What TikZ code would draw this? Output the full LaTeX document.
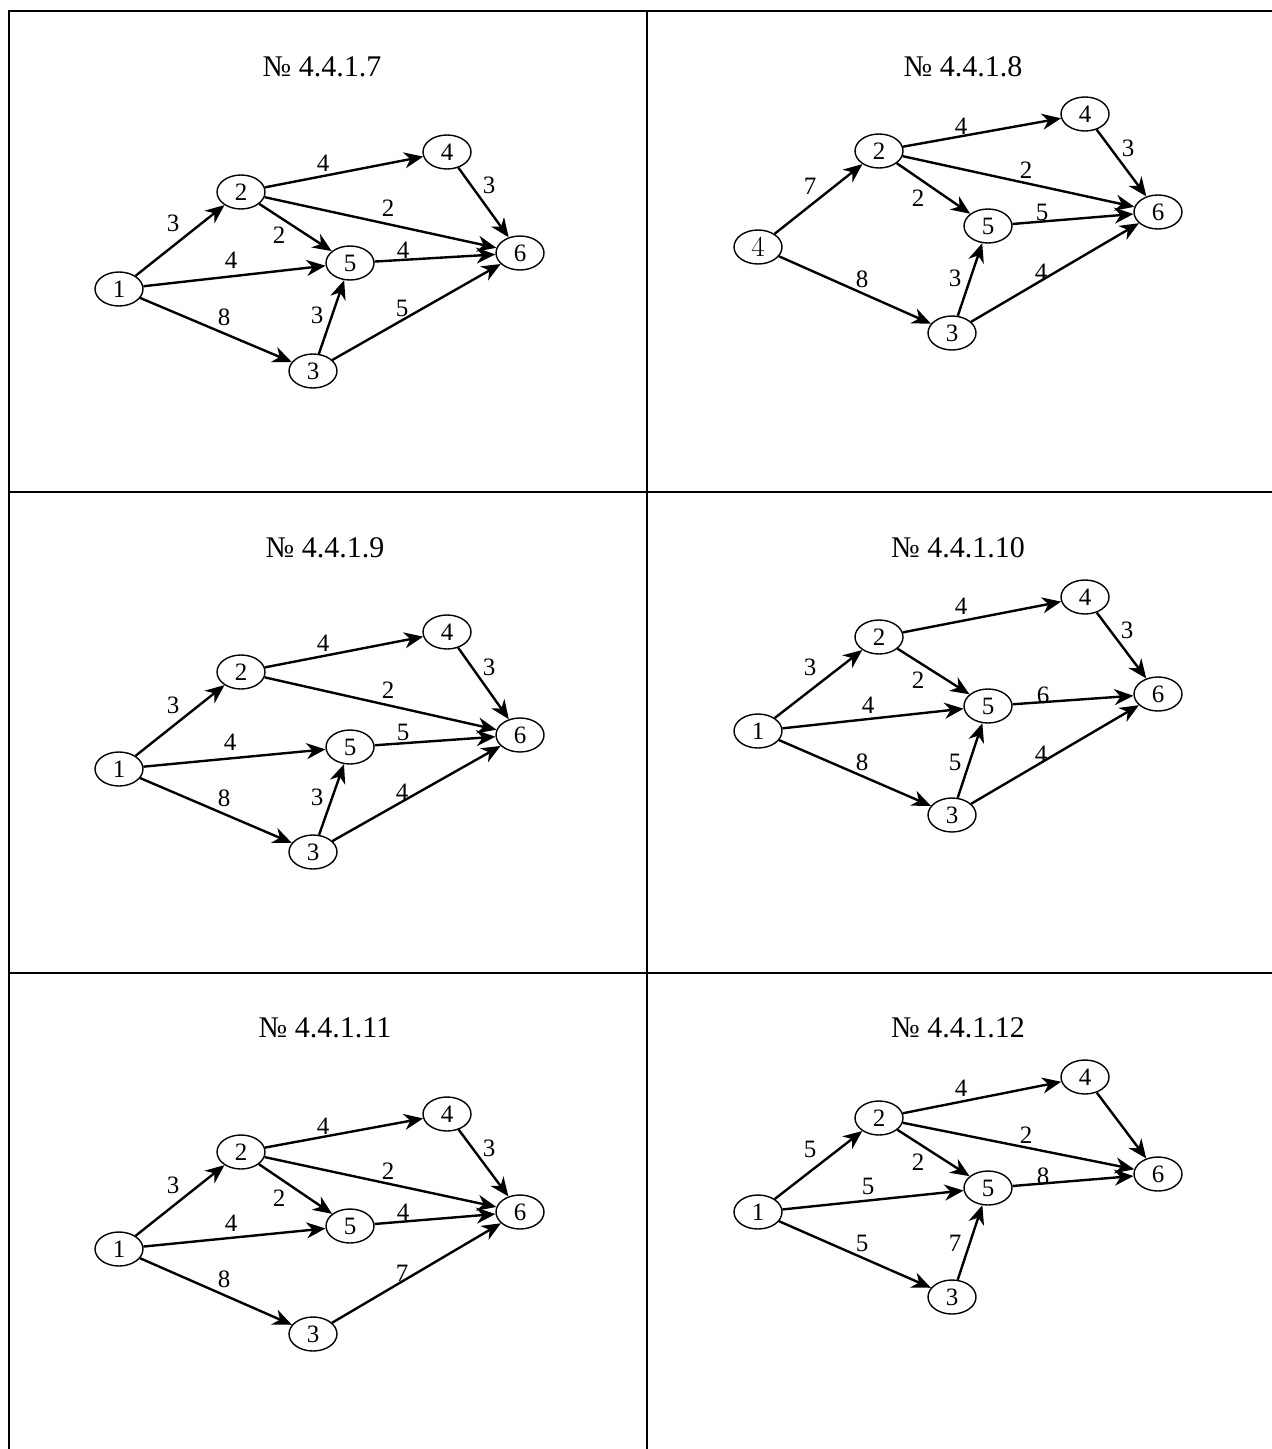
\documentclass[tikz,border=0pt]{standalone}
\usepackage{fontspec}
\setmainfont{Liberation Serif}
\newfontfamily\oddfour{Latin Modern Roman}
\usetikzlibrary{shapes.geometric,arrows.meta}
\begin{document}
\begin{tikzpicture}[x=0.5pt,y=-0.5pt,
  vtx/.style={ellipse, draw, line width=0.7pt, minimum width=24pt, minimum height=17pt, inner sep=0pt, font=\fontsize{12.5}{12.5}\selectfont},
  edge/.style={line width=1.2pt, -{Stealth[length=9.5pt,width=8pt,inset=3pt]}},
  lbl/.style={inner sep=0pt, font=\fontsize{12.5}{12.5}\selectfont},
  ttl/.style={inner sep=0pt, anchor=base, font=\fontsize{15}{16}\selectfont},
  gridline/.style={line width=1.1pt}]
\fill[white] (0,0) rectangle (1272,1449);
\useasboundingbox (0,0) rectangle (1272,1449);
% table
\coordinate (tl) at (9,11); \coordinate (tr) at (1272,11);
\coordinate (bl) at (9,1449); \coordinate (mt) at (647,11); \coordinate (mb) at (647,1449);
\coordinate (r1l) at (9,492); \coordinate (r1r) at (1272,492);
\coordinate (r2l) at (9,973); \coordinate (r2r) at (1272,973);
\draw[gridline] (bl) -- (tl) -- (tr);
\draw[gridline] (mt) -- (mb);
\draw[gridline] (r1l) -- (r1r);
\draw[gridline] (r2l) -- (r2r);
% titles
\node[ttl] (t7) at (322,77) {№ 4.4.1.7};
\node[ttl] (t8) at (963,77) {№ 4.4.1.8};
\node[ttl] (t9) at (325,557) {№ 4.4.1.9};
\node[ttl] (t10) at (958,557) {№ 4.4.1.10};
\node[ttl] (t11) at (325,1037) {№ 4.4.1.11};
\node[ttl] (t12) at (958,1037) {№ 4.4.1.12};

% ---- Panel A: 4.4.1.7
\node[vtx] (a1) at (119,289) {1};
\node[vtx] (a2) at (241,192) {2};
\node[vtx] (a4) at (447,152) {4};
\node[vtx] (a5) at (350,263) {5};
\node[vtx] (a6) at (520,253) {6};
\node[vtx] (a3) at (313,371) {3};
\draw[edge] (a1) -- (a2); \node[lbl] (la12) at (173,223) {3};
\draw[edge] (a1) -- (a5); \node[lbl] (la15) at (231,260) {4};
\draw[edge] (a1) -- (a3); \node[lbl] (la13) at (224,317) {8};
\draw[edge] (a2) -- (a4); \node[lbl] (la24) at (323,163) {4};
\draw[edge] (a2) -- (a6); \node[lbl] (la26) at (388,208) {2};
\draw[edge] (a2) -- (a5); \node[lbl] (la25) at (279,235) {2};
\draw[edge] (a4) -- (a6); \node[lbl] (la46) at (489,185) {3};
\draw[edge] (a5) -- (a6); \node[lbl] (la56) at (403,250) {4};
\draw[edge] (a3) -- (a5); \node[lbl] (la35) at (317,315) {3};
\draw[edge] (a3) -- (a6); \node[lbl] (la36) at (402,308) {5};

% ---- Panel B: 4.4.1.8
\node[vtx, font=\oddfour\fontsize{14.5}{14.5}\selectfont] (b1) at (758,247) {4};
\node[vtx] (b2) at (879,151) {2};
\node[vtx] (b4) at (1085,114) {4};
\node[vtx] (b5) at (988,226) {5};
\node[vtx] (b6) at (1158,212) {6};
\node[vtx] (b3) at (952,333) {3};
\draw[edge] (b1) -- (b2); \node[lbl] (lb12) at (810,186) {7};
\draw[edge] (b1) -- (b3); \node[lbl] (lb13) at (862,279) {8};
\draw[edge] (b2) -- (b4); \node[lbl] (lb24) at (961,126) {4};
\draw[edge] (b2) -- (b6); \node[lbl] (lb26) at (1026,170) {2};
\draw[edge] (b2) -- (b5); \node[lbl] (lb25) at (918,198) {2};
\draw[edge] (b4) -- (b6); \node[lbl] (lb46) at (1128,148) {3};
\draw[edge] (b5) -- (b6); \node[lbl] (lb56) at (1042,212) {5};
\draw[edge] (b3) -- (b5); \node[lbl] (lb35) at (955,278) {3};
\draw[edge] (b3) -- (b6); \node[lbl] (lb36) at (1041,272) {4};

% ---- Panel C: 4.4.1.9
\node[vtx] (c1) at (119,769) {1};
\node[vtx] (c2) at (241,672) {2};
\node[vtx] (c4) at (447,632) {4};
\node[vtx] (c5) at (350,747) {5};
\node[vtx] (c6) at (520,735) {6};
\node[vtx] (c3) at (313,852) {3};
\draw[edge] (c1) -- (c2); \node[lbl] (lc12) at (173,705) {3};
\draw[edge] (c1) -- (c5); \node[lbl] (lc15) at (230,742) {4};
\draw[edge] (c1) -- (c3); \node[lbl] (lc13) at (224,798) {8};
\draw[edge] (c2) -- (c4); \node[lbl] (lc24) at (323,643) {4};
\draw[edge] (c2) -- (c6); \node[lbl] (lc26) at (388,690) {2};
\draw[edge] (c4) -- (c6); \node[lbl] (lc46) at (489,667) {3};
\draw[edge] (c5) -- (c6); \node[lbl] (lc56) at (403,732) {5};
\draw[edge] (c3) -- (c5); \node[lbl] (lc35) at (317,797) {3};
\draw[edge] (c3) -- (c6); \node[lbl] (lc36) at (402,792) {4};

% ---- Panel D: 4.4.1.10
\node[vtx] (d1) at (758,731) {1};
\node[vtx] (d2) at (879,637) {2};
\node[vtx] (d4) at (1085,597) {4};
\node[vtx] (d5) at (988,706) {5};
\node[vtx] (d6) at (1158,694) {6};
\node[vtx] (d3) at (952,815) {3};
\draw[edge] (d1) -- (d2); \node[lbl] (ld12) at (810,667) {3};
\draw[edge] (d1) -- (d5); \node[lbl] (ld15) at (868,705) {4};
\draw[edge] (d1) -- (d3); \node[lbl] (ld13) at (862,762) {8};
\draw[edge] (d2) -- (d4); \node[lbl] (ld24) at (961,606) {4};
\draw[edge] (d2) -- (d5); \node[lbl] (ld25) at (918,680) {2};
\draw[edge] (d4) -- (d6); \node[lbl] (ld46) at (1127,630) {3};
\draw[edge] (d5) -- (d6); \node[lbl] (ld56) at (1043,695) {6};
\draw[edge] (d3) -- (d5); \node[lbl] (ld35) at (955,762) {5};
\draw[edge] (d3) -- (d6); \node[lbl] (ld36) at (1041,754) {4};

% ---- Panel E: 4.4.1.11
\node[vtx] (e1) at (119,1249) {1};
\node[vtx] (e2) at (241,1152) {2};
\node[vtx] (e4) at (447,1114) {4};
\node[vtx] (e5) at (350,1226) {5};
\node[vtx] (e6) at (520,1212) {6};
\node[vtx] (e3) at (313,1334) {3};
\draw[edge] (e1) -- (e2); \node[lbl] (le12) at (173,1185) {3};
\draw[edge] (e1) -- (e5); \node[lbl] (le15) at (231,1223) {4};
\draw[edge] (e1) -- (e3); \node[lbl] (le13) at (224,1279) {8};
\draw[edge] (e2) -- (e4); \node[lbl] (le24) at (323,1126) {4};
\draw[edge] (e2) -- (e6); \node[lbl] (le26) at (388,1171) {2};
\draw[edge] (e2) -- (e5); \node[lbl] (le25) at (279,1198) {2};
\draw[edge] (e4) -- (e6); \node[lbl] (le46) at (489,1148) {3};
\draw[edge] (e5) -- (e6); \node[lbl] (le56) at (403,1212) {4};
\draw[edge] (e3) -- (e6); \node[lbl] (le36) at (402,1273) {7};

% ---- Panel F: 4.4.1.12
\node[vtx] (f1) at (758,1212) {1};
\node[vtx] (f2) at (879,1118) {2};
\node[vtx] (f4) at (1085,1077) {4};
\node[vtx] (f5) at (988,1188) {5};
\node[vtx] (f6) at (1158,1174) {6};
\node[vtx] (f3) at (952,1297) {3};
\draw[edge] (f1) -- (f2); \node[lbl] (lf12) at (810,1149) {5};
\draw[edge] (f1) -- (f5); \node[lbl] (lf15) at (868,1186) {5};
\draw[edge] (f1) -- (f3); \node[lbl] (lf13) at (862,1243) {5};
\draw[edge] (f2) -- (f4); \node[lbl] (lf24) at (961,1088) {4};
\draw[edge] (f2) -- (f6); \node[lbl] (lf26) at (1026,1135) {2};
\draw[edge] (f2) -- (f5); \node[lbl] (lf25) at (918,1162) {2};
\draw[edge] (f4) -- (f6);
\draw[edge] (f5) -- (f6); \node[lbl] (lf56) at (1043,1176) {8};
\draw[edge] (f3) -- (f5); \node[lbl] (lf35) at (955,1243) {7};
\end{tikzpicture}
\end{document}
